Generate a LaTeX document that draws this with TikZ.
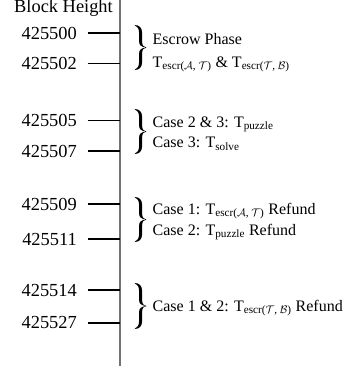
\documentclass[tikz,border=0pt]{standalone}
\usepackage{fontspec}
\setmainfont{Liberation Serif}
\newcommand{\sub}[1]{\textsubscript{#1}}
\newcommand{\escr}[2]{T\sub{escr($\mathcal{#1}$, $\mathcal{#2}$)}}
\tikzset{
  % a filled right curly brace, 12pt wide, of height #1, drawn from its left edge
  pics/curly/.style={code={
    \pgfmathsetmacro{\h}{#1/2}
    \fill (0,-\h) .. controls (4.6,-\h) and (7.6,-\h+2.5) .. (7.6,-\h+8)
      -- (7.6,-6) .. controls (7.6,-2) and (9,-0.4) .. (12,0)
      .. controls (9,0.4) and (7.6,2) .. (7.6,6)
      -- (7.6,\h-8) .. controls (7.6,\h-2.5) and (4.6,\h) .. (0,\h)
      .. controls (3,\h-1) and (4.6,\h-4) .. (4.6,\h-8)
      -- (4.6,6) .. controls (4.6,2.4) and (6.5,0.4) .. (12,0)
      .. controls (6.5,-0.4) and (4.6,-2.4) .. (4.6,-6)
      -- (4.6,-\h+8) .. controls (4.6,-\h+4) and (3,-\h+1) .. (0,-\h) -- cycle;
  }}
}
\begin{document}
\begin{tikzpicture}[x=1pt,y=-1pt,
  axisline/.style={line width=1.8pt, black!55},
  tickline/.style={line width=1.9pt, black},
  num/.style={anchor=east, inner sep=0pt, font=\fontsize{18.4}{20}\selectfont},
  note/.style={anchor=base west, inner sep=0pt, font=\fontsize{16}{18}\selectfont}]
\useasboundingbox (0,0) rectangle (343,368);

% vertical time axis
\coordinate (top) at (120,0);
\coordinate (bot) at (120,366);
\draw[axisline] (top) -- (bot);

\node[anchor=base east, inner sep=0pt, font=\fontsize{18.4}{20}\selectfont] (title) at (113,12.5) {Block Height};

% block heights with their ticks
\foreach \name/\y in {500/33, 502/63.5, 505/120.5, 507/151, 509/204.3, 511/239.3, 514/290, 527/322.7}{
  \node[num] (n\name) at (77,\y) {425\name};
  \draw[tickline] ([xshift=10.7pt]n\name.east) -- (n\name.east -| top);
}

% braces grouping the heights
\pic at (134.5,47.5) {curly=45};
\pic at (134.5,131.5) {curly=45};
\pic at (134.5,219.5) {curly=45};
\pic at (134.5,306) {curly=46};

% phase descriptions
\node[note] (t1a) at (152.5,44) {Escrow Phase};
\node[note] (t1b) at (152.5,67) {\escr{A}{T} \& \escr{T}{B}};
\node[note] (t2a) at (152.5,127) {Case 2 \& 3: T\sub{puzzle}};
\node[note] (t2b) at (152.5,147.5) {Case 3: T\sub{solve}};
\node[note] (t3a) at (152.5,214) {Case 1: \escr{A}{T} Refund};
\node[note] (t3b) at (152.5,235) {Case 2: T\sub{puzzle} Refund};
\node[note] (t4) at (152.5,311) {Case 1 \& 2: \escr{T}{B} Refund};
\end{tikzpicture}
\end{document}
